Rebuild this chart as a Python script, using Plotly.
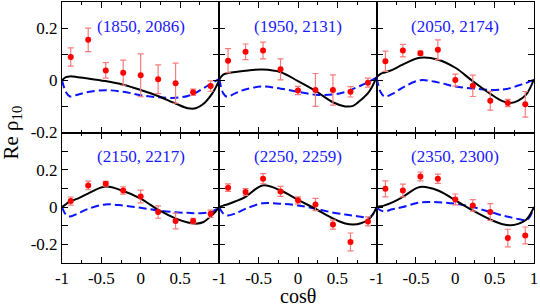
import plotly.graph_objects as go
from plotly.subplots import make_subplots

# ---------------- data ----------------
cos_bins = [-0.889, -0.667, -0.444, -0.222, 0.0, 0.222, 0.444, 0.667, 0.889]
curve_x = [-1, -0.95, -0.9, -0.8, -0.67, -0.45, -0.22, 0, 0.22, 0.45, 0.6, 0.7, 0.8, 0.9, 0.95, 1]

panel_labels = ["(1850, 2086)", "(1950, 2131)", "(2050, 2174)",
                "(2150, 2217)", "(2250, 2259)", "(2350, 2300)"]

p1_y = [0.089, 0.155, 0.038, 0.029, 0.019, 0.004, -0.011, -0.046, -0.022]
p1_err = [0.035, 0.045, 0.030, 0.048, 0.082, 0.055, 0.077, 0.012, 0.020]
p1_fit = [0, 0.012, 0.015, 0.012, 0.007, -0.003, -0.017, -0.037, -0.060, -0.090, -0.107, -0.107, -0.090, -0.055, -0.030, 0.0]
p1_alt = [0, -0.045, -0.062, -0.055, -0.045, -0.038, -0.044, -0.057, -0.065, -0.067, -0.060, -0.048, -0.030, -0.012, -0.003, 0.005]

p2_y = [0.075, 0.109, 0.114, 0.042, -0.039, -0.037, -0.037, -0.044, -0.009]
p2_err = [0.046, 0.030, 0.032, 0.040, 0.016, 0.063, 0.058, 0.020, 0.017]
p2_fit = [0.004, 0.022, 0.027, 0.032, 0.037, 0.041, 0.031, -0.003, -0.040, -0.085, -0.100, -0.098, -0.075, -0.045, -0.020, 0.012]
p2_alt = [0.005, -0.050, -0.063, -0.050, -0.035, -0.024, -0.032, -0.044, -0.055, -0.054, -0.045, -0.033, -0.020, -0.005, 0.003, 0.010]

p3_y = [0.073, 0.114, 0.104, 0.117, 0.001, -0.021, -0.078, -0.087, -0.092]
p3_err = [0.039, 0.024, 0.008, 0.038, 0.023, 0.041, 0.036, 0.014, 0.049]
p3_fit = [0.012, 0.025, 0.030, 0.040, 0.060, 0.086, 0.079, 0.048, -0.003, -0.053, -0.080, -0.087, -0.078, -0.055, -0.030, 0.004]
p3_alt = [0.010, -0.045, -0.062, -0.052, -0.028, 0.000, -0.008, -0.024, -0.031, -0.037, -0.035, -0.030, -0.020, -0.010, -0.004, 0.001]

p4_y = [0.032, 0.116, 0.125, 0.089, 0.057, -0.027, -0.075, -0.075, -0.036]
p4_err = [0.022, 0.023, 0.013, 0.020, 0.034, 0.033, 0.042, 0.015, 0.020]
p4_fit = [0, 0.015, 0.030, 0.045, 0.072, 0.110, 0.086, 0.045, -0.014, -0.062, -0.083, -0.089, -0.080, -0.045, -0.025, 0.0]
p4_alt = [0, -0.040, -0.050, -0.035, -0.010, 0.014, 0.008, -0.004, -0.018, -0.028, -0.031, -0.033, -0.032, -0.026, -0.015, 0.0]

p5_y = [0.104, 0.081, 0.152, 0.084, 0.036, 0.014, -0.094, -0.187, -0.077]
p5_err = [0.020, 0.018, 0.027, 0.027, 0.019, 0.033, 0.024, 0.048, 0.024]
p5_fit = [0, 0.008, 0.014, 0.030, 0.054, 0.116, 0.089, 0.039, -0.009, -0.062, -0.088, -0.094, -0.087, -0.065, -0.040, 0.0]
p5_alt = [0, -0.035, -0.045, -0.035, -0.010, 0.020, 0.018, 0.009, -0.009, -0.030, -0.040, -0.046, -0.052, -0.057, -0.040, 0.0]

p6_y = [0.098, 0.089, 0.164, 0.152, 0.041, 0.009, -0.027, -0.166, -0.152]
p6_err = [0.043, 0.034, 0.024, 0.025, 0.029, 0.031, 0.045, 0.047, 0.045]
p6_fit = [0, 0.004, 0.009, 0.025, 0.054, 0.108, 0.089, 0.036, -0.018, -0.068, -0.092, -0.098, -0.090, -0.068, -0.040, 0.0]
p6_alt = [0, -0.018, -0.023, -0.012, 0.000, 0.025, 0.026, 0.018, 0.000, -0.027, -0.045, -0.055, -0.064, -0.070, -0.050, 0.0]

top_range = [-0.2, 0.3]
bottom_range = [-0.3, 0.4]
y_tickvals = [-0.2, 0, 0.2]
y_ticktext = ["-0.2", "0", "0.2"]
x_tickvals = [-1, -0.5, 0, 0.5, 1]
x_ticktext = ["-1", "-0.5", "0", "0.5", "1"]

# ---------------- figure ----------------
FONT = "Liberation Serif, Times New Roman, serif"
fig = make_subplots(rows=2, cols=3, horizontal_spacing=0, vertical_spacing=0)

panels = [(p1_y, p1_err, p1_fit, p1_alt), (p2_y, p2_err, p2_fit, p2_alt),
          (p3_y, p3_err, p3_fit, p3_alt), (p4_y, p4_err, p4_fit, p4_alt),
          (p5_y, p5_err, p5_fit, p5_alt), (p6_y, p6_err, p6_fit, p6_alt)]

for i, (yy, ee, fit, alt) in enumerate(panels):
    r = i // 3 + 1
    c = i % 3 + 1
    fig.add_trace(go.Scatter(x=curve_x, y=alt, mode="lines",
                             line=dict(color="#0a14ff", width=2, dash="8px,4px", shape="spline", smoothing=1.0),
                             showlegend=False, hoverinfo="skip"), row=r, col=c)
    fig.add_trace(go.Scatter(x=curve_x, y=fit, mode="lines",
                             line=dict(color="black", width=2, shape="spline", smoothing=1.0),
                             showlegend=False, hoverinfo="skip"), row=r, col=c)
    fig.add_trace(go.Scatter(x=cos_bins, y=yy, mode="markers",
                             marker=dict(color="#ff0000", size=6),
                             error_y=dict(type="data", array=ee, color="#f77b7b", thickness=1.2, width=3),
                             showlegend=False), row=r, col=c)

    ax_common = dict(showline=True, linecolor="black", linewidth=1, mirror="allticks",
                     ticks="inside", ticklen=6, tickwidth=1, tickcolor="black",
                     showgrid=False, zeroline=False, automargin=False,
                     tickfont=dict(family=FONT, size=17, color="black"))
    # x axis
    if r == 2:
        tv = x_tickvals if c == 3 else x_tickvals[:-1]
        tt = x_ticktext if c == 3 else x_ticktext[:-1]
        fig.update_xaxes(range=[-1, 1], tickvals=tv, ticktext=tt, showticklabels=True,
                         minor=dict(dtick=0.25, ticklen=3, tickcolor="black", ticks="inside"),
                         row=r, col=c, **ax_common)
    else:
        fig.update_xaxes(range=[-1, 1], tickvals=x_tickvals, showticklabels=False,
                         minor=dict(dtick=0.25, ticklen=3, tickcolor="black", ticks="inside"),
                         row=r, col=c, **ax_common)
    # y axis
    rng = top_range if r == 1 else bottom_range
    fig.update_yaxes(range=rng, tickvals=y_tickvals, ticktext=y_ticktext,
                     showticklabels=(c == 1),
                     minor=dict(dtick=0.1, ticklen=6, tickcolor="black", ticks="inside"),
                     row=r, col=c, **ax_common)

    # panel label
    xref = "x" if i == 0 else f"x{i+1}"
    yref = "y" if i == 0 else f"y{i+1}"
    fig.add_annotation(x=0, y=(0.205 if r == 1 else 0.27), xref=xref, yref=yref,
                       text=panel_labels[i], showarrow=False,
                       font=dict(family=FONT, size=17, color="#1a1aff"))

fig.add_annotation(x=-0.108, y=0.5, xref="paper", yref="paper", text="Re ρ<sub>10</sub>",
                   textangle=-90, showarrow=False, xanchor="center", yanchor="middle",
                   font=dict(family=FONT, size=21, color="black"))
fig.add_annotation(x=0.5, y=-0.172, xref="paper", yref="paper", text="cosθ",
                   showarrow=False, xanchor="center", yanchor="bottom", borderpad=0,
                   font=dict(family=FONT, size=20, color="black"))

fig.update_layout(width=540, height=307, margin=dict(l=62, r=6, t=2, b=44),
                  plot_bgcolor="white", paper_bgcolor="white",
                  font=dict(family=FONT, color="black"))

fig.write_html("out.html", config={"displayModeBar": False},
               post_script="document.body.style.margin='0';document.body.style.overflow='hidden';")
